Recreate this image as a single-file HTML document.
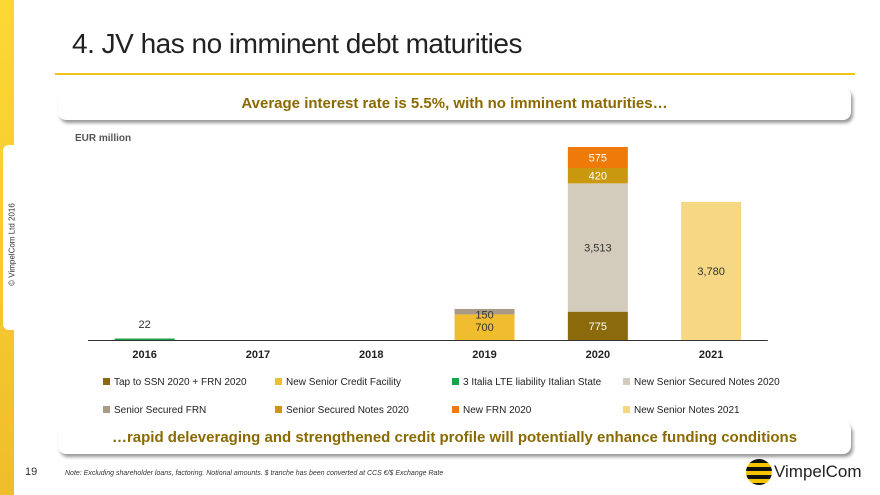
<!DOCTYPE html>
<html><head><meta charset="utf-8"><style>
body{margin:0;width:880px;height:495px;overflow:hidden;background:#fff;font-family:"Liberation Sans",sans-serif;position:relative}
.abs{position:absolute}
.banner{position:absolute;left:58px;width:793px;height:32px;background:#fff;border-radius:8px;box-shadow:2px 3px 3px #999;text-align:center;font-weight:bold;color:#8a6a00;line-height:32px}
.leg{position:absolute;font-size:10px;color:#222;white-space:nowrap}
.leg i{display:inline-block;width:7px;height:7px;margin-right:4px;vertical-align:0}
</style></head><body>
<div class="abs" style="left:0;top:0;width:14px;height:495px;background:linear-gradient(#fcd835,#f0bd2c)"></div>
<div class="abs" style="left:3px;top:145px;width:22px;height:185px;background:#fff;border-radius:6px"></div>
<div class="abs" style="left:-38px;top:240px;width:100px;font-size:8px;color:#333;transform:rotate(-90deg);text-align:center">© VimpelCom Ltd 2016</div>
<div class="abs" style="left:72px;top:28px;font-size:28px;color:#222;letter-spacing:-0.5px">4. JV has no imminent debt maturities</div>
<div class="abs" style="left:55px;top:73px;width:800px;height:2px;background:#f0c419"></div>
<div class="banner" style="top:88px;font-size:15px">Average interest rate is 5.5%, with no imminent maturities…</div>
<div class="abs" style="left:75px;top:133px;font-size:10px;font-weight:bold;color:#555">EUR million</div>
<svg class="abs" id="chart" style="left:0;top:0" width="880" height="370"></svg>
<div class="leg" style="left:103px;top:377px"><i style="background:#8a6a0a"></i>Tap to SSN 2020 + FRN 2020</div>
<div class="leg" style="left:275px;top:377px"><i style="background:#f0bd30"></i>New Senior Credit Facility</div>
<div class="leg" style="left:452px;top:377px"><i style="background:#1aa34a"></i>3 Italia LTE liability Italian State</div>
<div class="leg" style="left:623px;top:377px"><i style="background:#d3cbbc"></i>New Senior Secured Notes 2020</div>
<div class="leg" style="left:103px;top:405px"><i style="background:#a89a85"></i>Senior Secured FRN</div>
<div class="leg" style="left:275px;top:405px"><i style="background:#c9980f"></i>Senior Secured Notes 2020</div>
<div class="leg" style="left:452px;top:405px"><i style="background:#ee7a0a"></i>New FRN 2020</div>
<div class="leg" style="left:623px;top:405px"><i style="background:#f6d783"></i>New Senior Notes 2021</div>
<div class="banner" style="top:422px;font-size:15px">…rapid deleveraging and strengthened credit profile will potentially enhance funding conditions</div>
<div class="abs" style="left:25px;top:466px;font-size:11px;color:#333">19</div>
<div class="abs" style="left:65px;top:470px;font-size:7px;font-style:italic;color:#333">Note: Excluding shareholder loans, factoring. Notional amounts. $ tranche has been converted at CCS €/$ Exchange Rate</div>
<div class="abs" style="left:746px;top:459px;width:26px;height:26px;border-radius:50%;background:repeating-linear-gradient(#111 0 4px,#f5c400 4px 8px)"></div>
<div class="abs" style="left:774px;top:462px;font-size:17px;color:#222">VimpelCom</div>
<script>
const years=["2016","2017","2018","2019","2020","2021"];
const seriesNames=["Tap to SSN 2020 + FRN 2020","New Senior Credit Facility","3 Italia LTE liability Italian State","New Senior Secured Notes 2020","Senior Secured FRN","Senior Secured Notes 2020","New FRN 2020","New Senior Notes 2021"];
const colors=["#8a6a0a","#f0bd30","#1aa34a","#d3cbbc","#a89a85","#c9980f","#ee7a0a","#f6d783"];
const tapSSN=[0,0,0,0,775,0];
const newCredit=[0,0,0,700,0,0];
const italia=[22,0,0,0,0,0];
const newSSN2020=[0,0,0,0,3513,0];
const ssFRN=[0,0,0,150,0,0];
const ssn2020=[0,0,0,0,420,0];
const newFRN=[0,0,0,0,575,0];
const newSN2021=[0,0,0,0,0,3780];
const series=[tapSSN,newCredit,italia,ssFRN,newSSN2020,ssn2020,newFRN,newSN2021];
const seriesColors=[colors[0],colors[1],colors[2],colors[4],colors[3],colors[5],colors[6],colors[7]];
const svg=document.getElementById('chart');
const NS='http://www.w3.org/2000/svg';
const base=340,k=193/5283,x0=88,step=113.3,bw=60;
const xC=i=>x0+step*(i+0.5), y=v=>v*k;
function mk(t,a){const e=document.createElementNS(NS,t);for(const p in a)e.setAttribute(p,a[p]);svg.appendChild(e);return e;}
years.forEach((yr,i)=>{
  let acc=0;
  series.forEach((s,j)=>{
    const v=s[i]; if(!v)return;
    const h=Math.max(y(v),1.5);
    const r=mk('rect',{x:xC(i)-bw/2,y:base-y(acc)-h,width:bw,height:h,fill:seriesColors[j]});
    
    
    const dark=(seriesColors[j]==='#8a6a0a'||seriesColors[j]==='#ee7a0a'||seriesColors[j]==='#c9980f');
    const ty=h<15?base-y(acc)-h-6:base-y(acc)-h/2+4;
    const t=mk('text',{x:xC(i),y:h<15&&v<100?base-12:ty,'text-anchor':'middle','font-size':11,fill:dark?'#fff':'#333','font-family':'Liberation Sans'});
    if(v===150)t.setAttribute('y',base-y(acc)-h/2+7);
    if(v===22){t.setAttribute('y',base-12);t.setAttribute('fill','#333');}
    t.textContent=v.toLocaleString('en-US');
    
    
    acc+=v;
  });
  const l=mk('text',{x:xC(i),y:base+18,'text-anchor':'middle','font-size':11,'font-weight':'bold',fill:'#222','font-family':'Liberation Sans'});
  l.textContent=yr;
  
  
});
const ax=mk('line',{x1:x0,x2:x0+step*6,y1:base+0.5,y2:base+0.5,stroke:'#333','stroke-width':1});


</script>
</body></html>
